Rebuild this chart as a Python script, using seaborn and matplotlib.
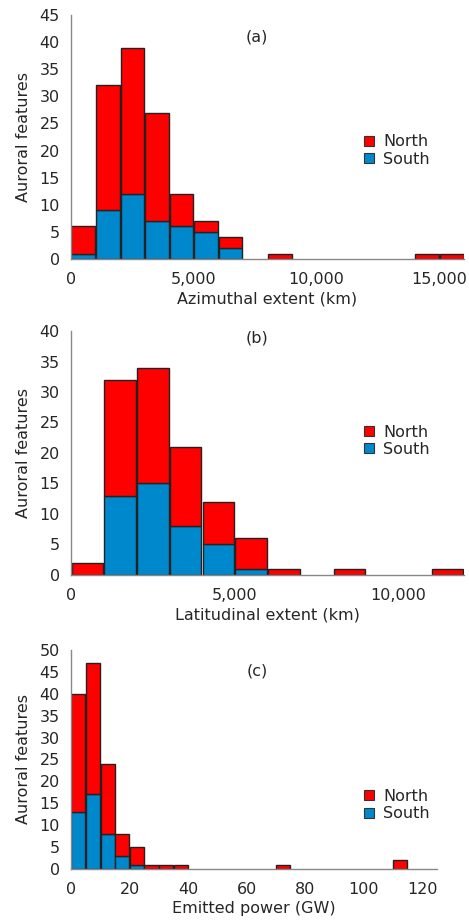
import numpy as np
import pandas as pd
import matplotlib
matplotlib.use("Agg")
import matplotlib.pyplot as plt
from matplotlib.ticker import FuncFormatter
from matplotlib.lines import Line2D
import seaborn as sns

# Panel (a): azimuthal extent, 1000 km bins from 0 to 16000
AZ_BIN = 1000
AZ_SOUTH = [1, 9, 12, 7, 6, 5, 2, 0, 0, 0, 0, 0, 0, 0, 0, 0]
AZ_NORTH = [5, 23, 27, 20, 6, 2, 2, 0, 1, 0, 0, 0, 0, 0, 1, 1]

# Panel (b): latitudinal extent, 1000 km bins from 0 to 12000
LAT_BIN = 1000
LAT_SOUTH = [0, 13, 15, 8, 5, 1, 0, 0, 0, 0, 0, 0]
LAT_NORTH = [2, 19, 19, 13, 7, 5, 1, 0, 1, 0, 0, 1]

# Panel (c): emitted power, 5 GW bins from 0 to 115
POW_BIN = 5
POW_SOUTH = [13, 17, 8, 3, 1, 0, 0, 0, 0, 0, 0, 0, 0, 0, 0, 0, 0, 0, 0, 0, 0, 0, 0]
POW_NORTH = [27, 30, 16, 5, 4, 1, 1, 1, 0, 0, 0, 0, 0, 0, 1, 0, 0, 0, 0, 0, 0, 0, 2]

RED = "#ff0000"
BLUE = "#0088cc"
GREY = "#888888"
FS = 11.5


def to_frame(south, north, width):
    rows = []
    for i, (s, n) in enumerate(zip(south, north)):
        centre = (i + 0.5) * width
        rows.append({"x": centre, "w": s, "hemi": "South"})
        rows.append({"x": centre, "w": n, "hemi": "North"})
    return pd.DataFrame(rows)


def draw_panel(ax, south, north, width, xlim, ylim, yticks, xticks, xlabel,
               tag, tag_xy, leg_xy, comma=True):
    df = to_frame(south, north, width)
    sns.histplot(data=df, x="x", weights="w", hue="hemi",
                 hue_order=["North", "South"], multiple="stack",
                 bins=len(south), binrange=(0, len(south) * width),
                 palette={"North": RED, "South": BLUE},
                 alpha=1, edgecolor="#222222", linewidth=1.0,
                 shrink=0.96, legend=False, ax=ax)
    # empty bins leave flat outlines on the baseline; hide them
    for p in ax.patches:
        if p.get_height() == 0:
            p.set_visible(False)
    ax.set_xlim(*xlim)
    ax.set_ylim(*ylim)
    ax.set_yticks(yticks)
    ax.set_xticks(xticks)
    if comma:
        ax.xaxis.set_major_formatter(FuncFormatter(lambda v, p: f"{int(v):,}"))
    ax.set_xlabel(xlabel, fontsize=FS, labelpad=3)
    ax.set_ylabel("Auroral features", fontsize=FS, labelpad=6)
    ax.tick_params(axis="both", labelsize=FS, direction="out", length=3,
                   width=1, color=GREY)
    ax.tick_params(axis="x", pad=6.5)
    ax.tick_params(axis="y", pad=5)
    for side in ["top", "right"]:
        ax.spines[side].set_visible(False)
    for side in ["left", "bottom"]:
        ax.spines[side].set_color(GREY)
        ax.spines[side].set_linewidth(1)
    ax.text(tag_xy[0], tag_xy[1], tag, transform=ax.transAxes,
            fontsize=FS, ha="center", va="center")
    handles = [Line2D([], [], marker="s", linestyle="none", markersize=7,
                      markerfacecolor=RED, markeredgecolor="#333333",
                      markeredgewidth=0.8, label="North"),
               Line2D([], [], marker="s", linestyle="none", markersize=7,
                      markerfacecolor=BLUE, markeredgecolor="#333333",
                      markeredgewidth=0.8, label="South")]
    ax.legend(handles=handles, loc="center left", bbox_to_anchor=leg_xy,
              frameon=False, fontsize=FS, handlelength=0.8,
              handletextpad=0.5, labelspacing=0.15, borderaxespad=0)


sns.set_style("white")
plt.rcParams["font.family"] = ["DejaVu Sans"]

fig = plt.figure(figsize=(4.69, 9.21), dpi=100)
ax_a = fig.add_axes([0.1514, 0.7188, 0.838, 0.2649])
ax_b = fig.add_axes([0.1514, 0.3757, 0.838, 0.2649])
ax_c = fig.add_axes([0.1514, 0.0565, 0.780, 0.2378])

draw_panel(ax_a, AZ_SOUTH, AZ_NORTH, AZ_BIN, (0, 16000), (0, 45),
           range(0, 46, 5), [0, 5000, 10000, 15000],
           "Azimuthal extent (km)", "(a)", (0.473, 0.91), (0.725, 0.445))
draw_panel(ax_b, LAT_SOUTH, LAT_NORTH, LAT_BIN, (0, 12000), (0, 40),
           range(0, 41, 5), [0, 5000, 10000],
           "Latitudinal extent (km)", "(b)", (0.473, 0.97), (0.725, 0.55))
draw_panel(ax_c, POW_SOUTH, POW_NORTH, POW_BIN, (0, 125), (0, 50),
           range(0, 51, 5), range(0, 121, 20),
           "Emitted power (GW)", "(c)", (0.508, 0.905), (0.779, 0.292),
           comma=False)

fig.savefig("out.png", dpi=100)
